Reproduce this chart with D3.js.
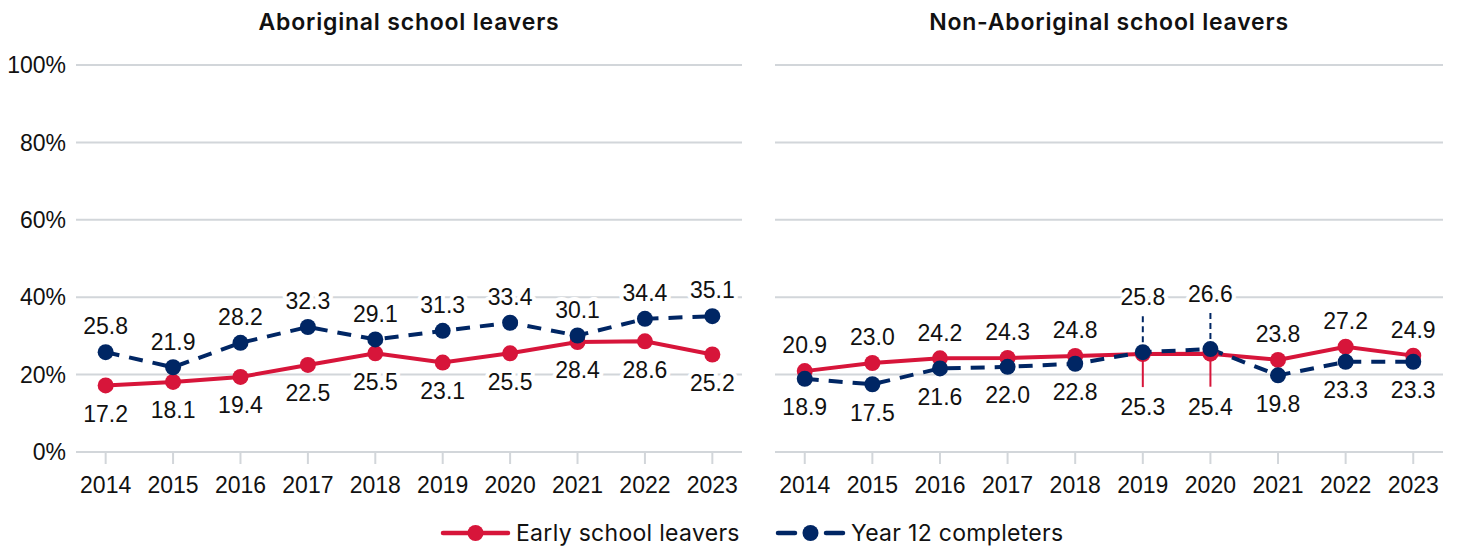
<!DOCTYPE html>
<html>
<head>
<meta charset="utf-8">
<script src="https://cdn.jsdelivr.net/npm/d3@7"></script>
<style>
  body { margin: 0; background: #fff; }
  svg { display: block; }
  .title { font-family: "Inter", "Noto Sans", sans-serif; font-weight: 600; font-size: 23px; letter-spacing: 0.8px; fill: #111; }
  .axis text { font-family: "Liberation Sans", Arial, sans-serif; font-size: 23px; fill: #111; }
  .lbl { font-family: "Liberation Sans", Arial, sans-serif; font-size: 23px; fill: #111;
         stroke: #fff; stroke-width: 8px; paint-order: stroke; stroke-linejoin: round; }
  .legend text { font-family: "Inter", "Noto Sans", sans-serif; font-size: 23px; letter-spacing: 0.3px; fill: #111; }
</style>
</head>
<body>
<script>
var years = ["2014", "2015", "2016", "2017", "2018", "2019", "2020", "2021", "2022", "2023"];
var yTicks = [0, 20, 40, 60, 80, 100];

var panelTitles = ["Aboriginal school leavers", "Non-Aboriginal school leavers"];
var seriesNames = ["Early school leavers", "Year 12 completers"];

var aboriginalEarly = [17.2, 18.1, 19.4, 22.5, 25.5, 23.1, 25.5, 28.4, 28.6, 25.2];
var aboriginalYear12 = [25.8, 21.9, 28.2, 32.3, 29.1, 31.3, 33.4, 30.1, 34.4, 35.1];
var nonAboriginalEarly = [20.9, 23.0, 24.2, 24.3, 24.8, 25.3, 25.4, 23.8, 27.2, 24.9];
var nonAboriginalYear12 = [18.9, 17.5, 21.6, 22.0, 22.8, 25.8, 26.6, 19.8, 23.3, 23.3];

var red = "#d7153a", navy = "#002664", grid = "#d2d6da";

var W = 1458, H = 547;
var svg = d3.select("body").append("svg").attr("width", W).attr("height", H);

var y = d3.scaleLinear().domain([0, 100]).range([452, 65]);

var panels = [
  { title: panelTitles[0], x0: 76, x1: 742, early: aboriginalEarly, y12: aboriginalYear12, yAxis: true },
  { title: panelTitles[1], x0: 775, x1: 1443, early: nonAboriginalEarly, y12: nonAboriginalYear12, yAxis: false }
];

panels.forEach(function (p) {
  var x = d3.scalePoint().domain(years).range([p.x0, p.x1]).padding(0.44);
  var g = svg.append("g");

  g.append("text").attr("class", "title")
    .attr("x", (p.x0 + p.x1) / 2).attr("y", 30)
    .attr("text-anchor", "middle").text(p.title);

  // gridlines
  g.append("g").selectAll("line").data(yTicks).enter().append("line")
    .attr("x1", p.x0).attr("x2", p.x1)
    .attr("y1", function (d) { return y(d); }).attr("y2", function (d) { return y(d); })
    .attr("stroke", grid).attr("stroke-width", 2);

  if (p.yAxis) {
    g.append("g").attr("class", "axis").selectAll("text").data(yTicks).enter().append("text")
      .attr("x", 66).attr("y", function (d) { return y(d); })
      .attr("dy", "0.36em").attr("text-anchor", "end")
      .text(function (d) { return d + "%"; });
  }

  // x ticks and labels
  var xa = g.append("g").attr("class", "axis");
  xa.selectAll("line").data(years).enter().append("line")
    .attr("x1", function (d) { return x(d); }).attr("x2", function (d) { return x(d); })
    .attr("y1", y(0)).attr("y2", y(0) + 12)
    .attr("stroke", grid).attr("stroke-width", 2);
  xa.selectAll("text").data(years).enter().append("text")
    .attr("x", function (d) { return x(d); }).attr("y", 493)
    .attr("text-anchor", "middle").text(function (d) { return d; });

  var rows = years.map(function (yr, i) {
    return { year: yr, early: p.early[i], y12: p.y12[i] };
  });

  // label positions; when both points nearly overlap, push labels out with leader lines
  var labelData = [];
  rows.forEach(function (r) {
    var close = Math.abs(r.early - r.y12) < 1.5;
    var topKey = r.y12 >= r.early ? "y12" : "early";
    var botKey = topKey === "y12" ? "early" : "y12";
    var topY = Math.min(y(r.early), y(r.y12));
    var botY = Math.max(y(r.early), y(r.y12));
    var up = close ? 55 : 26, down = close ? 53 : 28;
    labelData.push({ year: r.year, v: r[topKey], key: topKey, ly: topY - up, py: y(r[topKey]), close: close, dir: -1 });
    labelData.push({ year: r.year, v: r[botKey], key: botKey, ly: botY + down, py: y(r[botKey]), close: close, dir: 1 });
  });

  var leaders = labelData.filter(function (d) { return d.close; });
  g.append("g").selectAll("line").data(leaders).enter().append("line")
    .attr("x1", function (d) { return x(d.year); }).attr("x2", function (d) { return x(d.year); })
    .attr("y1", function (d) { return d.py; })
    .attr("y2", function (d) { return d.dir < 0 ? d.ly + 18 : d.ly - 20; })
    .attr("stroke", function (d) { return d.key === "y12" ? navy : red; })
    .attr("stroke-width", 2)
    .attr("stroke-dasharray", function (d) { return d.key === "y12" ? "6,4" : null; });

  var line = d3.line()
    .x(function (d) { return x(d.year); })
    .y(function (d) { return y(d.v); });

  var series = [
    { key: "early", color: red, dash: null, pts: rows.map(function (r) { return { year: r.year, v: r.early }; }) },
    { key: "y12", color: navy, dash: "14,10", pts: rows.map(function (r) { return { year: r.year, v: r.y12 }; }) }
  ];

  series.forEach(function (s) {
    g.append("path").datum(s.pts)
      .attr("fill", "none").attr("stroke", s.color).attr("stroke-width", 4)
      .attr("stroke-dasharray", s.dash).attr("d", line);
  });
  series.forEach(function (s) {
    g.append("g").selectAll("circle").data(s.pts).enter().append("circle")
      .attr("cx", function (d) { return x(d.year); }).attr("cy", function (d) { return y(d.v); })
      .attr("r", 8).attr("fill", s.color);
  });

  g.append("g").selectAll("text").data(labelData).enter().append("text")
    .attr("class", "lbl")
    .attr("x", function (d) { return x(d.year); }).attr("y", function (d) { return d.ly; })
    .attr("dy", "0.36em").attr("text-anchor", "middle")
    .text(function (d) { return d.v.toFixed(1); });
});

// legend
var legendItems = [
  { name: seriesNames[0], color: red, dashed: false, x: 443 },
  { name: seriesNames[1], color: navy, dashed: true, x: 778 }
];
var lg = svg.append("g").attr("class", "legend");
legendItems.forEach(function (it) {
  var gi = lg.append("g").attr("transform", "translate(" + it.x + ",533)");
  var segs = it.dashed ? [[0, 17], [48, 65]] : [[0, 65]];
  gi.selectAll("line").data(segs).enter().append("line")
    .attr("x1", function (d) { return d[0]; }).attr("x2", function (d) { return d[1]; })
    .attr("y1", 0).attr("y2", 0)
    .attr("stroke", it.color).attr("stroke-width", 4.5)
    .attr("stroke-linecap", "round");
  gi.append("circle").attr("cx", 32.5).attr("cy", 0).attr("r", 8).attr("fill", it.color);
  gi.append("text").attr("x", 73).attr("y", 0).attr("dy", "0.34em").text(it.name);
});
</script>
</body>
</html>
